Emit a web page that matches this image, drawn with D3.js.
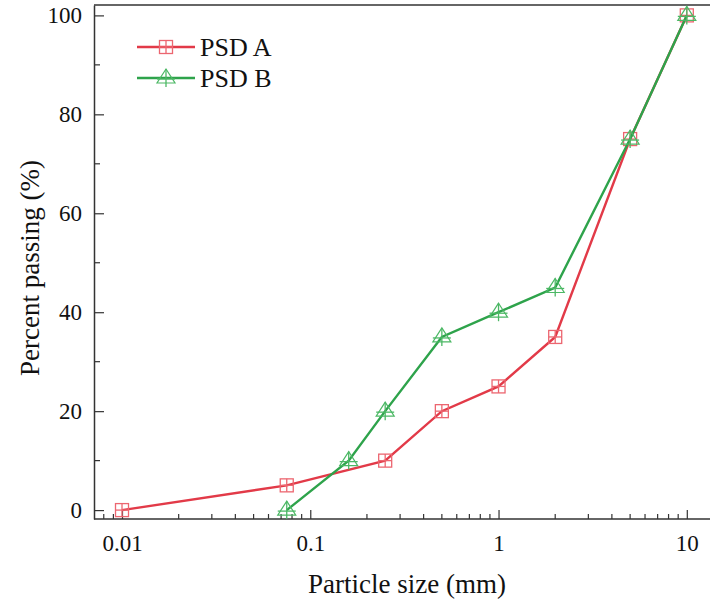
<!DOCTYPE html>
<html>
<head>
<meta charset="utf-8">
<script src="https://cdn.jsdelivr.net/npm/d3@7"></script>
<style>
  body { margin: 0; background: #fff; }
  #chart text { font-family: "Liberation Serif", "Times New Roman" !important; }
</style>
</head>
<body>
<svg id="chart" width="710" height="603" font-family="Liberation Serif"></svg>
<script>
const sizesA = [0.01, 0.075, 0.25, 0.5, 1, 2, 5, 10];
const passA = [0, 5, 10, 20, 25, 35, 75, 100];
const sizesB = [0.075, 0.16, 0.25, 0.5, 1, 2, 5, 10];
const passB = [0, 10, 20, 35, 40, 45, 75, 100];
const xTicks = [0.01, 0.1, 1, 10];
const yTicks = [0, 20, 40, 60, 80, 100];
const seriesNames = ['PSD A', 'PSD B'];

const redLine = '#e23a48';
const redMark = '#ec6670';
const greenLine = '#2ea34b';
const greenMark = '#4cb865';
const fontFam = '"Liberation Serif"';

const svg = d3.select('#chart');
const plotL = 94, plotR = 709.5, plotT = 5, plotB = 519;

const x = d3.scaleLog().domain([0.0071, 13.2]).range([plotL, plotR]);
const y = d3.scaleLinear().domain([-1.8, 102.1]).range([plotB, plotT]);

// frame
svg.append('line').attr('x1', plotL).attr('x2', 710).attr('y1', plotT).attr('y2', plotT)
  .attr('stroke', '#333').attr('stroke-width', 1.5);

// minor x ticks
const minorX = [];
for (let e = -3; e <= 1; e++) {
  for (let m = 2; m <= 9; m++) {
    const v = m * Math.pow(10, e);
    if (v > 0.0071 && v < 13.2) minorX.push(v);
  }
}
svg.append('g').selectAll('line').data(minorX).enter().append('line')
  .attr('x1', d => x(d)).attr('x2', d => x(d))
  .attr('y1', plotB).attr('y2', plotB - 5)
  .attr('stroke', '#333').attr('stroke-width', 1.2);

const xAxis = d3.axisBottom(x).tickValues(xTicks).tickSizeInner(-9).tickSizeOuter(0)
  .tickPadding(16).tickFormat(d => String(d));
const gx = svg.append('g').attr('transform', `translate(0,${plotB})`).call(xAxis)
  .attr('font-family', null).attr('font-size', null);
gx.select('.domain').attr('stroke', '#333').attr('stroke-width', 1.5).attr('d', `M${plotL},0H710`);
gx.selectAll('.tick line').attr('stroke', '#333').attr('stroke-width', 1.2);
gx.selectAll('.tick text').style('font-family', fontFam).attr('font-size', 23).attr('fill', '#111');

// minor y ticks
const minorY = d3.range(10, 100, 20);
svg.append('g').selectAll('line').data(minorY).enter().append('line')
  .attr('x1', plotL).attr('x2', plotL + 6)
  .attr('y1', d => y(d)).attr('y2', d => y(d))
  .attr('stroke', '#333').attr('stroke-width', 1.2);

const yAxis = d3.axisLeft(y).tickValues(yTicks).tickSizeInner(-10).tickSizeOuter(0)
  .tickPadding(12);
const gy = svg.append('g').attr('transform', `translate(${plotL},0)`).call(yAxis)
  .attr('font-family', null).attr('font-size', null);
gy.select('.domain').attr('stroke', '#333').attr('stroke-width', 1.5);
gy.selectAll('.tick line').attr('stroke', '#333').attr('stroke-width', 1.2);
gy.selectAll('.tick text').style('font-family', fontFam).attr('font-size', 23).attr('fill', '#111');

// axis titles
svg.append('text').attr('x', 407).attr('y', 593).attr('text-anchor', 'middle')
  .style('font-family', fontFam).attr('font-size', 27).attr('fill', '#111')
  .text('Particle size (mm)');
svg.append('text').attr('transform', 'translate(39,268) rotate(-90)')
  .attr('text-anchor', 'middle').style('font-family', fontFam).attr('font-size', 27)
  .attr('fill', '#111').text('Percent passing (%)');

const dataA = sizesA.map((s, i) => ({ s, p: passA[i] }));
const dataB = sizesB.map((s, i) => ({ s, p: passB[i] }));
const line = d3.line().x(d => x(d.s)).y(d => y(d.p));

function squareMark(g, cx, cy) {
  const h = 6.5;
  g.append('rect').attr('x', cx - h).attr('y', cy - h).attr('width', 2 * h).attr('height', 2 * h)
    .attr('fill', 'none').attr('stroke', redMark).attr('stroke-width', 1.3);
  g.append('line').attr('x1', cx - h).attr('x2', cx + h).attr('y1', cy).attr('y2', cy)
    .attr('stroke', redMark).attr('stroke-width', 1.3);
  g.append('line').attr('x1', cx).attr('x2', cx).attr('y1', cy - h).attr('y2', cy + h)
    .attr('stroke', redMark).attr('stroke-width', 1.3);
}
function triMark(g, cx, cy) {
  const h = 9;
  g.append('path')
    .attr('d', `M${cx},${cy - h}L${cx + h},${cy + 5}L${cx - h},${cy + 5}Z`)
    .attr('fill', 'none').attr('stroke', greenMark).attr('stroke-width', 1.2);
  g.append('line').attr('x1', cx - h).attr('x2', cx + h).attr('y1', cy + 1).attr('y2', cy + 1)
    .attr('stroke', greenMark).attr('stroke-width', 1.3);
  g.append('line').attr('x1', cx).attr('x2', cx).attr('y1', cy - h).attr('y2', cy + h)
    .attr('stroke', greenMark).attr('stroke-width', 1.3);
}

svg.append('path').datum(dataA).attr('d', line).attr('fill', 'none')
  .attr('stroke', redLine).attr('stroke-width', 2.4);
const mA = svg.append('g');
dataA.forEach(d => squareMark(mA, x(d.s), y(d.p)));

svg.append('path').datum(dataB).attr('d', line).attr('fill', 'none')
  .attr('stroke', greenLine).attr('stroke-width', 2.4);
const mB = svg.append('g');
dataB.forEach(d => triMark(mB, x(d.s), y(d.p)));

// legend
const legend = svg.append('g');
const legY = [47, 78];
[redLine, greenLine].forEach((c, i) => {
  legend.append('line').attr('x1', 137).attr('x2', 195).attr('y1', legY[i]).attr('y2', legY[i])
    .attr('stroke', c).attr('stroke-width', 2.4);
  if (i === 0) squareMark(legend, 166, legY[i]); else triMark(legend, 166, legY[i]);
  legend.append('text').attr('x', 200).attr('y', legY[i] + 9)
    .style('font-family', fontFam).attr('font-size', 26).attr('fill', '#111')
    .text(seriesNames[i]);
});
</script>
</body>
</html>
